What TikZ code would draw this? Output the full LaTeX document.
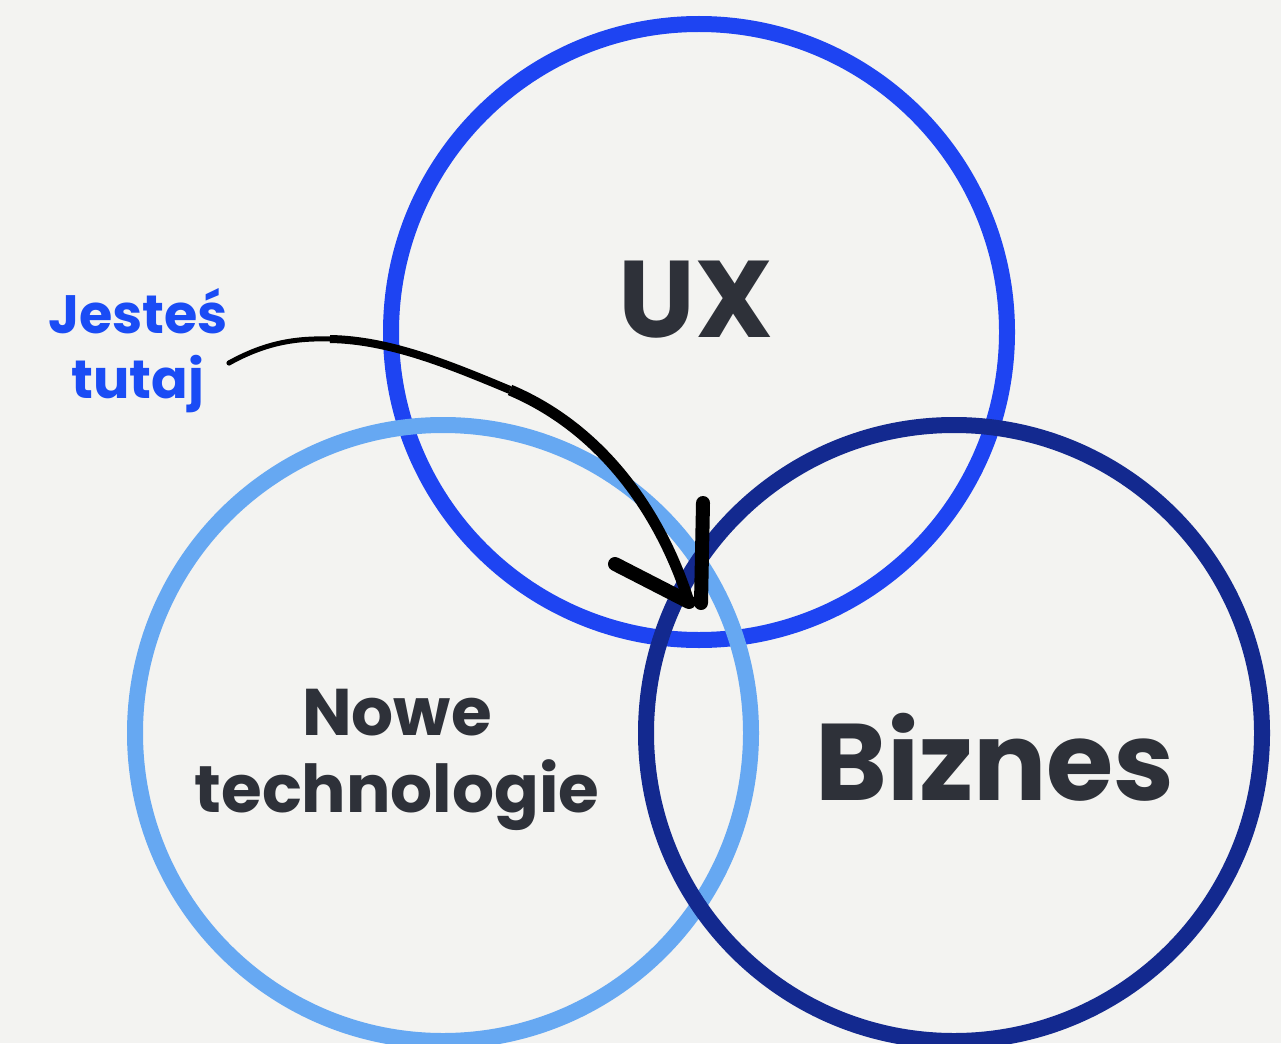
\documentclass[tikz,border=0pt]{standalone}
\usepackage{fontspec}
\setmainfont{Poppins}
\definecolor{paper}{HTML}{F3F3F1}
\definecolor{uxblue}{HTML}{1E44F2}
\definecolor{techblue}{HTML}{66A8F2}
\definecolor{biznavy}{HTML}{13298F}
\definecolor{ink}{HTML}{2E3139}
\definecolor{hereblue}{HTML}{1A4CF5}

\tikzset{%
  ring/.style={circle, draw, line width=16pt, minimum size=616pt, inner sep=0pt},
  heading/.style={anchor=base, text=ink, align=center, inner sep=0pt},
  pen/.style={draw, color=black, line cap=round, line join=round},
  penpart/.style={draw, color=black, line cap=butt},
}

\begin{document}
\begin{tikzpicture}[x=1pt, y=-1pt]
\useasboundingbox (0,0) rectangle (1281,1043);
\clip (0,0) rectangle (1281,1043);
\fill[paper] (0,0) rectangle (1281,1043);

% the three rings
\node [ring, color=uxblue] (ux) at (699,332) {};
\node [ring, color=techblue] (tech) at (443,733) {};
\node [ring, color=biznavy] (biz) at (954,733) {};

% labels (base = last line)
\node [heading, font=\fontsize{109}{109}\selectfont\bfseries] (uxtext) at (696,337) {UX};
\node [heading, font=\fontsize{109}{109}\selectfont\bfseries] (biztext) at (995,800) {Biznes};
\node [heading, font=\fontsize{66}{77}\selectfont\bfseries] (techtext) at (397,812) {Nowe\\technologie};
\node [heading, text=hereblue, font=\fontsize{54}{65}\selectfont\bfseries] (jestes) at (138,398) {Jesteś\\tutaj};

% hand drawn arrow
\coordinate (tail) at (229,363);
\coordinate (bend) at (330,339);
\coordinate (mid) at (510,390);
\coordinate (tip) at (689,602);
\fill (tail) circle (2.6);
\path [penpart, line width=5pt] (tail) .. controls (265,343) and (295,338) .. (bend);
\path [penpart, line width=8pt] (bend) .. controls (390,340) and (450,365) .. (mid);
\path [penpart, line width=11pt] (mid) .. controls (600,428) and (660,510) .. (tip);
\path [pen, line width=14pt] (tip) -- ++(-74,-38);
\path [pen, line width=14pt] ([xshift=12pt,yshift=-1pt]tip) -- ++(2,-100);
\end{tikzpicture}
\end{document}
